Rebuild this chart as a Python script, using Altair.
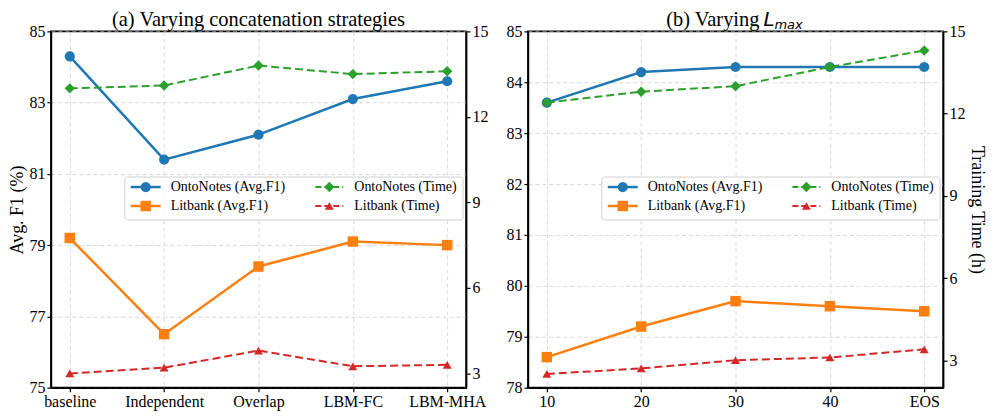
import altair as alt
import pandas as pd

# ---------------- data ----------------
cats_a = ["baseline", "Independent", "Overlap", "LBM-FC", "LBM-MHA"]
onto_f1_a = [84.3, 81.4, 82.1, 83.1, 83.6]
lit_f1_a = [79.2, 76.5, 78.4, 79.1, 79.0]
onto_time_a = [13.0, 13.1, 13.8, 13.5, 13.6]
lit_time_a = [3.0, 3.2, 3.8, 3.25, 3.3]

cats_b = ["10", "20", "30", "40", "EOS"]
onto_f1_b = [83.6, 84.2, 84.3, 84.3, 84.3]
lit_f1_b = [78.6, 79.2, 79.7, 79.6, 79.5]
onto_time_b = [12.4, 12.8, 13.0, 13.7, 14.3]
lit_time_b = [2.5, 2.7, 3.0, 3.1, 3.4]

f1_ticks_a = [75, 77, 79, 81, 83, 85]
f1_ticks_b = [78, 79, 80, 81, 82, 83, 84, 85]
time_ticks = [3, 6, 9, 12, 15]

series_names = ["OntoNotes (Avg.F1)", "Litbank (Avg.F1)", "OntoNotes (Time)", "Litbank (Time)"]

# ---------------- styles ----------------
W, H = 416, 357
FONT = "Liberation Serif"
STYLES = [
    dict(color="#1f77b4", shape="circle", size=105, width=2.5, dash=None),
    dict(color="#ff7f0e", shape="square", size=110, width=2.5, dash=None),
    dict(color="#2ca02c", shape="diamond", size=110, width=2.0, dash=[8, 4]),
    dict(color="#d62728", shape="triangle-up", size=80, width=2.0, dash=[8, 4]),
]
DUMMY = pd.DataFrame({"d": [0]})


def x_enc(cats):
    return alt.X("c:N", sort=cats,
                 scale=alt.Scale(type="point", padding=0.2),
                 axis=alt.Axis(title=None, labelAngle=0, grid=True))


def series_layers(cats, vals, st, yenc):
    df = pd.DataFrame({"c": cats, "v": vals})
    base = alt.Chart(df).encode(x=x_enc(cats), y=yenc)
    lkw = dict(color=st["color"], strokeWidth=st["width"])
    if st["dash"]:
        lkw["strokeDash"] = st["dash"]
    line = base.mark_line(**lkw)
    pts = base.mark_point(shape=st["shape"], filled=True, size=st["size"],
                          color=st["color"], opacity=1)
    return [line, pts]


def legend_layers():
    layers = []
    box = alt.Chart(DUMMY).mark_rect(fill="white", fillOpacity=0.85, stroke="#d0d0d0",
                                     strokeWidth=1, cornerRadius=3).encode(
        x=alt.value(74), x2=alt.value(413), y=alt.value(146), y2=alt.value(189))
    layers.append(box)
    cols = [(80, 110, 95, 120), (265, 293, 279, 304)]
    rows = [156, 175]
    order = [(0, 0), (0, 1), (1, 0), (1, 1)]  # (col,row) for each series
    for i, name in enumerate(series_names):
        st = STYLES[i]
        cx, rx = order[i]
        x1, x2, xm, xt = cols[cx]
        yy = rows[rx]
        rkw = dict(color=st["color"], strokeWidth=st["width"])
        if st["dash"]:
            rkw["strokeDash"] = [6, 3]
        layers.append(alt.Chart(DUMMY).mark_rule(**rkw).encode(
            x=alt.value(x1), x2=alt.value(x2), y=alt.value(yy)))
        layers.append(alt.Chart(DUMMY).mark_point(shape=st["shape"], filled=True,
                                                  size=st["size"], color=st["color"],
                                                  opacity=1).encode(
            x=alt.value(xm), y=alt.value(yy)))
        layers.append(alt.Chart(DUMMY).mark_text(align="left", baseline="middle",
                                                 fontSize=14, font=FONT, color="black").encode(
            x=alt.value(xt), y=alt.value(yy), text=alt.value(name)))
    return layers


def panel(cats, f1_vals, time_vals, f1_dom, f1_ticks, time_dom, left_title, right_title, title_layers):
    yf = alt.Y("v:Q", scale=alt.Scale(domain=f1_dom, nice=False, zero=False),
               axis=alt.Axis(values=f1_ticks, orient="left", grid=True,
                             title=left_title))
    yt = alt.Y("v:Q", scale=alt.Scale(domain=time_dom, nice=False, zero=False),
               axis=alt.Axis(values=time_ticks, orient="right", grid=False,
                             title=right_title))
    f1_layers = []
    for i, vals in enumerate(f1_vals):
        f1_layers += series_layers(cats, vals, STYLES[i], yf)
    t_layers = []
    for i, vals in enumerate(time_vals):
        t_layers += series_layers(cats, vals, STYLES[i + 2], yt)
    return alt.layer(alt.layer(*f1_layers), alt.layer(*t_layers),
                     *legend_layers(), *title_layers).resolve_scale(
        y="independent").properties(width=W, height=H)


title_a = [alt.Chart(DUMMY).mark_text(align="center", baseline="alphabetic", fontSize=20.5,
                                      font=FONT, color="black").encode(
    x=alt.value(W / 2), y=alt.value(-5.3), text=alt.value("(a) Varying concatenation strategies"))]

title_b = [
    alt.Chart(DUMMY).mark_text(align="right", baseline="alphabetic", fontSize=20.5,
                               font=FONT, color="black").encode(
        x=alt.value(232), y=alt.value(-5.3), text=alt.value("(b) Varying")),
    alt.Chart(DUMMY).mark_text(align="left", baseline="alphabetic", fontSize=20,
                               font="DejaVu Sans", fontStyle="italic", color="black").encode(
        x=alt.value(236), y=alt.value(-5.3), text=alt.value("L")),
    alt.Chart(DUMMY).mark_text(align="left", baseline="alphabetic", fontSize=13,
                               font="DejaVu Sans", fontStyle="italic", color="black").encode(
        x=alt.value(247), y=alt.value(-2.3), text=alt.value("max")),
]

pa = panel(cats_a, [onto_f1_a, lit_f1_a], [onto_time_a, lit_time_a], [75, 85], f1_ticks_a,
           [2.5, 15], "Avg. F1 (%)", None, title_a)
pb = panel(cats_b, [onto_f1_b, lit_f1_b], [onto_time_b, lit_time_b], [78, 85], f1_ticks_b,
           [2, 15], None, "Training Time (h)", title_b)

chart = alt.hconcat(pa, pb, spacing=16).properties(
    padding={"left": 0, "top": 0, "right": 3, "bottom": 0}
).configure_view(
    stroke="black", strokeWidth=1.6
).configure_axis(
    labelFont=FONT, titleFont=FONT, labelFontSize=16, titleFontSize=18,
    labelColor="black", titleColor="black", tickColor="black", domainColor="black",
    domainWidth=1.6, tickSize=4, tickWidth=1.2, labelPadding=2, titlePadding=2,
    gridColor="#cfcfcf", gridDash=[4, 3], gridWidth=0.8, titleFontWeight="normal"
)

chart.save("out.html", embed_options={"renderer": "svg", "actions": False})
